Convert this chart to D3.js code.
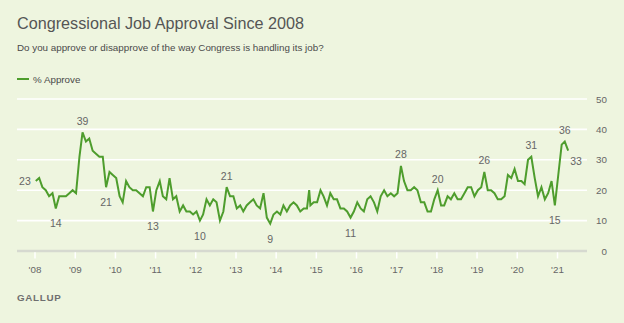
<!DOCTYPE html>
<html lang="en">
<head>
  <meta charset="UTF-8">
  <title>Congressional Job Approval Since 2008</title>
  <script src="https://d3js.org/d3.v7.min.js"></script>
  <style>
    body {
      margin: 0;
      background-color: #eef5df;
      font-family: "Liberation Sans", Arial, sans-serif;
    }
    .title { font-size: 16.2px; fill: #555; }
    .subtitle { font-size: 9.8px; fill: #4a4a4a; }
    .legend-text { font-size: 9.8px; fill: #4a4a4a; }
    .tick-label { font-size: 9.8px; fill: #666; }
    .value-label { font-size: 10.5px; fill: #666; }
    .source { font-size: 9.8px; font-weight: bold; fill: #6f6f6f; letter-spacing: 0.7px; }
  </style>
</head>
<body>
  <svg id="chart" width="624" height="323"></svg>

  <script>
    // % approve, one value per month (Jan..Dec)
    const approve2008 = [23, 24, 21, 20, 18, 19, 14, 18, 18, 18, 19, 20];
    const approve2009 = [19, 31, 39, 36, 37, 33, 32, 31, 31, 21, 26, 25];
    const approve2010 = [24, 18, 16, 23, 21, 20, 20, 19, 18, 21, 21, 13];
    const approve2011 = [20, 23, 18, 17, 24, 17, 18, 13, 15, 13, 13, 12];
    const approve2012 = [13, 10, 12, 17, 15, 17, 16, 10, 13, 21, 18, 18];
    const approve2013 = [14, 15, 13, 15, 16, 17, 15, 14, 19, 11, 9, 12];
    const approve2014 = [13, 12, 15, 13, 15, 16, 15, 13, 14, 14, 15, 16];
    const approve2015 = [16, 20, 18, 15, 19, 17, 17, 14, 14, 13, 11, 13];
    const approve2016 = [16, 14, 13, 17, 18, 16, 13, 18, 20, 18, 19, 18];
    const approve2017 = [19, 28, 23, 20, 20, 21, 20, 16, 16, 13, 13, 17];
    const approve2018 = [20, 15, 15, 18, 17, 19, 17, 17, 19, 21, 21, 18];
    const approve2019 = [20, 21, 26, 20, 20, 19, 17, 17, 18, 25, 24, 27];
    const approve2020 = [23, 23, 22, 30, 31, 24, 18, 21, 17, 19, 23, 15];
    const approve2021 = [25, 35, 36, 33];

    // extra readings taken between the regular monthly polls
    const extraDates = ["2014-10-28"];
    const extraValues = [20];

    // points that carry a value label
    const labelMonths = ["2008-01", "2008-07", "2009-03", "2009-10", "2010-12", "2012-02", "2012-10",
      "2013-11", "2015-11", "2017-02", "2018-01", "2019-03", "2020-05", "2020-12", "2021-03", "2021-04"];
    const labelPlace = ["left", "below", "above", "below", "below", "below", "above",
      "below", "below", "above", "above", "above", "above", "below", "above", "right"];

    const yearTicks = d3.range(2008, 2022);
    const valueTicks = [0, 10, 20, 30, 40, 50];

    const byYear = [approve2008, approve2009, approve2010, approve2011, approve2012, approve2013, approve2014,
      approve2015, approve2016, approve2017, approve2018, approve2019, approve2020, approve2021];

    const parseDay = d3.timeParse("%Y-%m-%d");
    const monthKey = d3.timeFormat("%Y-%m");

    let data = [];
    byYear.forEach((vals, i) => {
      vals.forEach((v, m) => data.push({ date: new Date(2008 + i, m, 8), value: v }));
    });
    extraDates.forEach((d, i) => data.push({ date: parseDay(d), value: extraValues[i] }));
    data.sort((a, b) => a.date - b.date);

    const svg = d3.select("#chart");

    const x = d3.scaleTime()
      .domain([new Date(2008, 0, 1), new Date(2021, 0, 1)])
      .range([35, 557.5]);
    const y = d3.scaleLinear().domain([0, 50]).range([251, 99]);

    const gridLeft = 17, gridRight = 587;

    // Titles
    svg.append("text").attr("class", "title").attr("x", 17).attr("y", 28.5)
      .text("Congressional Job Approval Since 2008");
    svg.append("text").attr("class", "subtitle").attr("x", 17).attr("y", 51)
      .text("Do you approve or disapprove of the way Congress is handling its job?");

    // Legend
    svg.append("line").attr("x1", 17).attr("x2", 29).attr("y1", 79).attr("y2", 79)
      .attr("stroke", "#4e9d2d").attr("stroke-width", 2);
    svg.append("text").attr("class", "legend-text").attr("x", 33).attr("y", 82.5).text("% Approve");

    // Gridlines
    svg.append("g").selectAll("line")
      .data(valueTicks.filter(d => d > 0))
      .enter().append("line")
      .attr("x1", gridLeft).attr("x2", gridRight)
      .attr("y1", d => y(d)).attr("y2", d => y(d))
      .attr("stroke", "#fff").attr("stroke-width", 1.6);

    // Baseline
    svg.append("line")
      .attr("x1", gridLeft).attr("x2", gridRight)
      .attr("y1", y(0)).attr("y2", y(0))
      .attr("stroke", "#d6d9d0").attr("stroke-width", 2.5);

    // Y labels (right side)
    svg.append("g").selectAll("text")
      .data(valueTicks)
      .enter().append("text")
      .attr("class", "tick-label")
      .attr("x", 607).attr("y", d => y(d) + 3.5)
      .attr("text-anchor", "end")
      .text(d => d);

    // Year ticks and labels
    const years = svg.append("g");
    years.selectAll("line")
      .data(yearTicks)
      .enter().append("line")
      .attr("x1", d => x(new Date(d, 0, 1))).attr("x2", d => x(new Date(d, 0, 1)))
      .attr("y1", y(0) + 1.3).attr("y2", y(0) + 7.5)
      .attr("stroke", "#fff").attr("stroke-width", 1.5);
    years.selectAll("text")
      .data(yearTicks)
      .enter().append("text")
      .attr("class", "tick-label")
      .attr("x", d => x(new Date(d, 0, 1)))
      .attr("y", 273)
      .attr("text-anchor", "middle")
      .text(d => "'" + String(d).slice(2));

    // Line
    const line = d3.line().x(d => x(d.date)).y(d => y(d.value));
    svg.append("path")
      .datum(data)
      .attr("d", line)
      .attr("fill", "none")
      .attr("stroke", "#4e9d2d")
      .attr("stroke-width", 2)
      .attr("stroke-linejoin", "miter");

    // Value labels
    labelMonths.forEach((k, i) => {
      const d = data.find(p => monthKey(p.date) === k && p.date.getDate() === 8);
      const place = labelPlace[i];
      let lx = x(d.date), ly = y(d.value), anchor = "middle";
      if (place === "above") ly -= 7.5;
      if (place === "below") ly += 19;
      if (place === "left") { lx -= 5; ly += 4; anchor = "end"; }
      if (place === "right") { lx += 2; ly += 14; anchor = "start"; }
      svg.append("text")
        .attr("class", "value-label")
        .attr("x", lx).attr("y", ly)
        .attr("text-anchor", anchor)
        .text(d.value);
    });

    // Source
    svg.append("text").attr("class", "source").attr("x", 17).attr("y", 301).text("GALLUP");
  </script>
</body>
</html>
